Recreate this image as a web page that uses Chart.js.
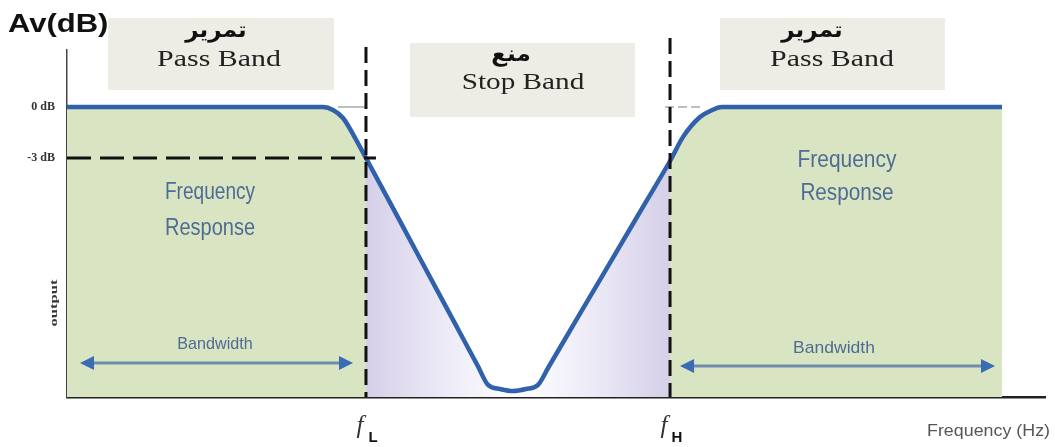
<!DOCTYPE html>
<html>
<head>
<meta charset="utf-8">
<script src="https://cdn.jsdelivr.net/npm/chart.js@4/dist/chart.umd.min.js"></script>
<style>
  html, body { margin: 0; padding: 0; background: #ffffff; }
  #wrap { width: 1055px; height: 447px; position: relative; }
</style>
</head>
<body>
<div id="wrap"><canvas id="c" width="1055" height="447"></canvas></div>
<script>
// ---- data ----
const freqPoints   = [0, 26.18, 27.20, 28.22, 29.35, 30.57, 33.03, 36.0, 39.5, 42.0, 43.05, 44.27, 45.60, 46.93, 48.16, 49.2, 52.0, 56.0, 59.30, 61.66, 62.99, 64.72, 65.75, 66.97, 95.6];
const gainDbPoints = [0, 0, -0.18, -0.65, -1.71, -3.0, -5.63, -8.81, -12.55, -15.23, -16.35, -16.59, -16.71, -16.59, -16.35, -15.34, -12.6, -8.7, -5.48, -3.18, -1.76, -0.59, -0.24, 0, 0];
const cornerFreqs  = [30.57, 61.66];          // fL, fH
const cornerSubs   = ['L', 'H'];
const yTickValues  = [0, -3];
const yTickLabels  = ['0 dB', '-3 dB'];
const bandTitlesAr = ['تمرير', 'منع', 'تمرير'];
const bandTitlesEn = ['Pass Band', 'Stop Band', 'Pass Band'];
const responseText = ['Frequency', 'Response'];
const bandwidthText = 'Bandwidth';
const yAxisName = 'Av(dB)';
const yAxisSub = 'output';
const xAxisName = 'Frequency (Hz)';

// ---- styles ----
const GREEN = 'rgb(216,228,194)';
const PURPLE = 'rgb(213,207,232)';
const PURPLE_MID = 'rgb(234,231,245)';
const CURVE = '#3061aa';
const TEXT_BLUE = 'rgb(78,108,148)';
const BOX = '#eeede5';

function txt(ctx, s, x, y, font, color, sx, align) {
  ctx.save();
  ctx.translate(x, y);
  ctx.scale(sx || 1, 1);
  ctx.font = font;
  ctx.fillStyle = color;
  ctx.textAlign = align || 'center';
  ctx.textBaseline = 'alphabetic';
  ctx.fillText(s, 0, 0);
  ctx.restore();
}

function arrow(ctx, x1, x2, y) {
  const head = 14, hh = 7;
  ctx.save();
  ctx.strokeStyle = 'rgb(112,140,172)';
  ctx.lineWidth = 3;
  ctx.beginPath();
  ctx.moveTo(x1 + head - 2, y);
  ctx.lineTo(x2 - head + 2, y);
  ctx.stroke();
  ctx.fillStyle = '#3a6cb3';
  ctx.beginPath();
  ctx.moveTo(x1, y); ctx.lineTo(x1 + head, y - hh); ctx.lineTo(x1 + head, y + hh); ctx.closePath(); ctx.fill();
  ctx.beginPath();
  ctx.moveTo(x2, y); ctx.lineTo(x2 - head, y - hh); ctx.lineTo(x2 - head, y + hh); ctx.closePath(); ctx.fill();
  ctx.restore();
}

const overlay = {
  id: 'overlay',
  afterDatasetsDraw(chart) {
    const ctx = chart.ctx;
    const xs = chart.scales.x, ys = chart.scales.y;
    const area = chart.chartArea;
    const fLpx = xs.getPixelForValue(cornerFreqs[0]);
    const fHpx = xs.getPixelForValue(cornerFreqs[1]);
    const y0 = ys.getPixelForValue(0);
    const y3 = ys.getPixelForValue(-3);

    // grey 0 dB reference stubs
    ctx.save();
    ctx.strokeStyle = '#a8a8a8';
    ctx.lineWidth = 1.5;
    ctx.beginPath(); ctx.moveTo(fLpx - 28, y0); ctx.lineTo(fLpx, y0); ctx.stroke();
    ctx.setLineDash([9, 4]);
    ctx.beginPath(); ctx.moveTo(fHpx - 5, y0); ctx.lineTo(fHpx + 32, y0); ctx.stroke();
    ctx.restore();

    // dashed corner lines
    ctx.save();
    ctx.strokeStyle = '#111';
    ctx.lineWidth = 3;
    ctx.setLineDash([16, 7]);
    ctx.beginPath(); ctx.moveTo(fLpx, area.top - 3); ctx.lineTo(fLpx, area.bottom); ctx.stroke();
    ctx.beginPath(); ctx.moveTo(fHpx, area.top - 12); ctx.lineTo(fHpx, area.bottom); ctx.stroke();
    ctx.setLineDash([24, 9]);
    ctx.beginPath(); ctx.moveTo(area.left, y3); ctx.lineTo(fLpx + 10, y3); ctx.stroke();
    ctx.restore();

    // bandwidth arrows
    arrow(ctx, area.left + 13, fLpx - 13, 363);
    arrow(ctx, fHpx + 10, 995, 366);
  },
  afterDraw(chart) {
    const ctx = chart.ctx;
    const xs = chart.scales.x;
    const fLpx = xs.getPixelForValue(cornerFreqs[0]);
    const fHpx = xs.getPixelForValue(cornerFreqs[1]);

    // band title boxes
    ctx.save();
    ctx.fillStyle = BOX;
    ctx.fillRect(108, 18, 226, 72);
    ctx.fillRect(410, 43, 225, 74);
    ctx.fillRect(720, 18, 225, 72);
    ctx.restore();

    const arFont = "bold 22px 'DejaVu Sans'";
    const enFont = "23px 'Liberation Serif'";
    txt(ctx, bandTitlesAr[0], 216, 37, arFont, '#111', 1.05);
    txt(ctx, bandTitlesEn[0], 219, 66, enFont, '#222', 1.3);
    txt(ctx, bandTitlesAr[1], 511, 61, arFont, '#111', 1.05);
    txt(ctx, bandTitlesEn[1], 523, 89, enFont, '#222', 1.27);
    txt(ctx, bandTitlesAr[2], 812, 37, arFont, '#111', 1.05);
    txt(ctx, bandTitlesEn[2], 832, 66, enFont, '#222', 1.3);

    // Frequency response labels
    const frFont = "23px 'Liberation Sans'";
    txt(ctx, responseText[0], 210, 199, frFont, TEXT_BLUE, 0.83);
    txt(ctx, responseText[1], 210, 235, frFont, TEXT_BLUE, 0.87);
    txt(ctx, responseText[0], 847, 167, frFont, TEXT_BLUE, 0.91);
    txt(ctx, responseText[1], 847, 200, frFont, TEXT_BLUE, 0.9);

    // bandwidth
    const bwFont = "17px 'Liberation Sans'";
    txt(ctx, bandwidthText, 215, 349, bwFont, TEXT_BLUE, 0.95);
    txt(ctx, bandwidthText, 834, 353, bwFont, TEXT_BLUE, 1.03);

    // axis names
    txt(ctx, yAxisName, 8, 32, "bold 25px 'Liberation Sans'", '#111', 1.24, 'left');
    txt(ctx, xAxisName, 1050, 436, "17px 'Liberation Sans'", '#555', 1.05, 'right');

    ctx.save();
    ctx.translate(57, 303);
    ctx.rotate(-Math.PI / 2);
    ctx.scale(1.5, 1);
    ctx.font = "bold 11px 'Liberation Serif'";
    ctx.fillStyle = '#333';
    ctx.textAlign = 'center';
    ctx.textBaseline = 'alphabetic';
    ctx.fillText(yAxisSub, 0, 0);
    ctx.restore();

    // corner frequency labels
    [fLpx, fHpx].forEach((px, i) => {
      txt(ctx, 'f', px - 6, 433, "italic 25px 'Liberation Serif'", '#333', 1.0);
      txt(ctx, cornerSubs[i], px + 7, 442, "bold 15px 'Liberation Sans'", '#111', 1.0);
    });
  }
};

const ctx = document.getElementById('c').getContext('2d');
new Chart(ctx, {
  type: 'line',
  data: {
    datasets: [{
      data: freqPoints.map((f, i) => ({ x: f, y: gainDbPoints[i] })),
      borderColor: CURVE,
      borderWidth: 4.5,
      pointRadius: 0,
      cubicInterpolationMode: 'monotone',
      fill: 'start',
      backgroundColor: (c) => {
        const chart = c.chart;
        const area = chart.chartArea;
        if (!area || !chart.scales.x) return GREEN;
        const xs = chart.scales.x;
        const w = area.right - area.left;
        const f = v => (xs.getPixelForValue(v) - area.left) / w;
        const a = f(cornerFreqs[0]), b = f(cornerFreqs[1]), m = (a + b) / 2;
        const g = chart.ctx.createLinearGradient(area.left, 0, area.right, 0);
        g.addColorStop(0, GREEN);
        g.addColorStop(a, GREEN);
        g.addColorStop(a + 0.0005, PURPLE);
        g.addColorStop(a + (m - a) * 0.45, PURPLE_MID);
        g.addColorStop(m, '#ffffff');
        g.addColorStop(b - (b - m) * 0.45, PURPLE_MID);
        g.addColorStop(b - 0.0005, PURPLE);
        g.addColorStop(b, GREEN);
        g.addColorStop(1, GREEN);
        return g;
      }
    }]
  },
  options: {
    responsive: false,
    animation: false,
    events: [],
    layout: { padding: { left: 0, top: 50, right: 10, bottom: 0 } },
    plugins: { legend: { display: false }, tooltip: { enabled: false } },
    scales: {
      x: {
        type: 'linear',
        min: 0, max: 100,
        z: 1,
        grid: { display: false },
        border: { display: true, color: '#222', width: 2.5 },
        ticks: { display: false },
        afterFit: s => { s.height = 50; }
      },
      y: {
        type: 'linear',
        min: -17.06, max: 3.35,
        z: 1,
        grid: { display: false, drawTicks: false },
        border: { display: true, color: '#444', width: 1.5 },
        afterBuildTicks: s => { s.ticks = yTickValues.map(v => ({ value: v })); },
        ticks: {
          padding: 12,
          color: '#333',
          font: { family: "'Liberation Serif'", size: 12, weight: 'bold' },
          callback: (v) => { const i = yTickValues.indexOf(v); return i >= 0 ? yTickLabels[i] : ''; }
        },
        afterFit: s => { s.width = 67; }
      }
    }
  },
  plugins: [overlay]
});
</script>
</body>
</html>
